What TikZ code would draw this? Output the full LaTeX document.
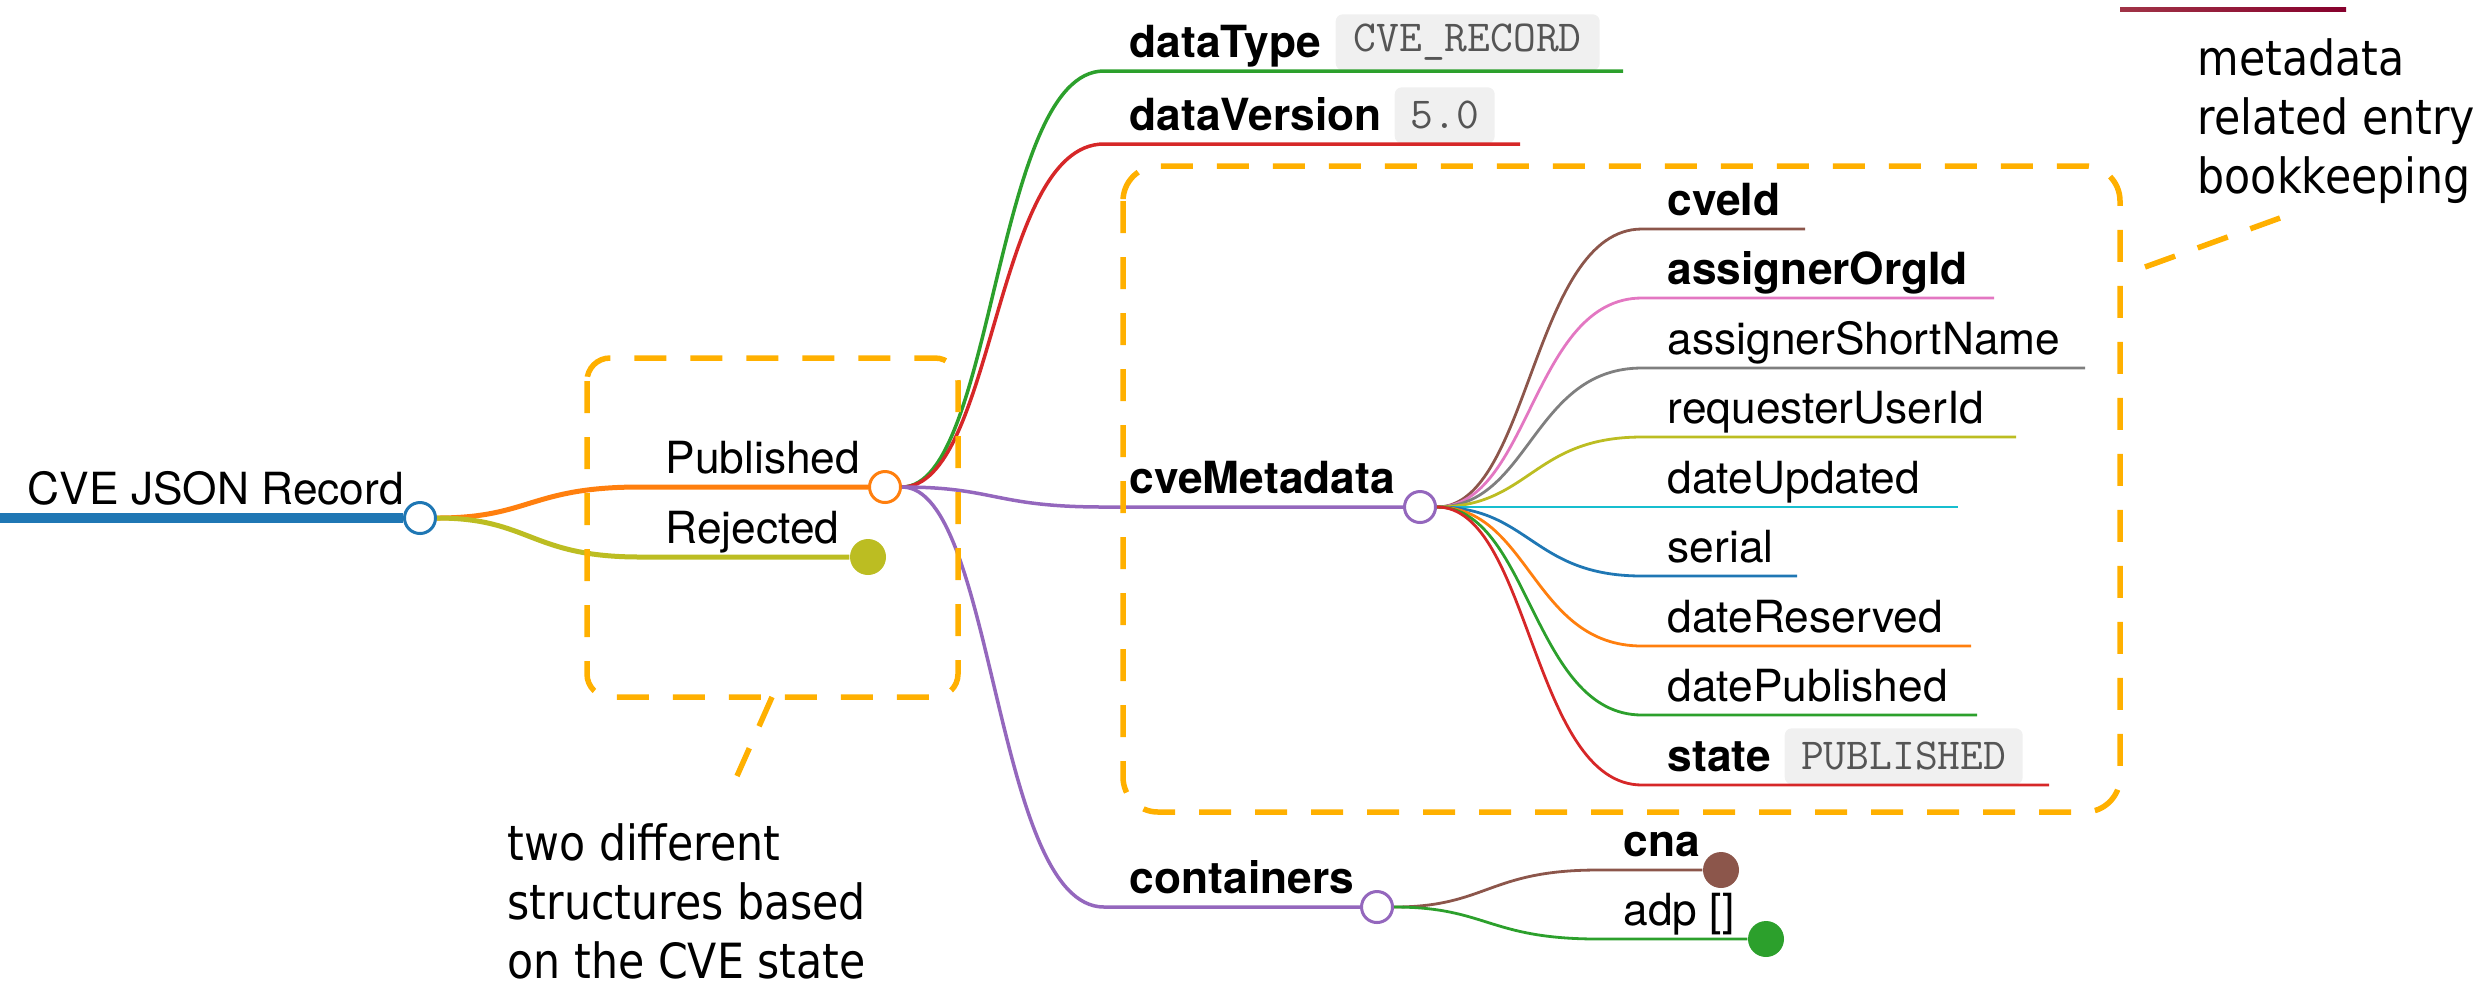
\documentclass[tikz,border=0pt]{standalone}
\usepackage{fontspec}
\setmainfont{TeX Gyre Heros}
\newfontfamily\notefont[FakeStretch=0.88]{DejaVu Sans}
\usepackage{tikz}
\usetikzlibrary{calc}

\definecolor{catblue}{HTML}{1F77B4}
\definecolor{catorange}{HTML}{FF7F0E}
\definecolor{catgreen}{HTML}{2CA02C}
\definecolor{catred}{HTML}{D62728}
\definecolor{catpurple}{HTML}{9467BD}
\definecolor{catbrown}{HTML}{8C564B}
\definecolor{catpink}{HTML}{E377C2}
\definecolor{catgray}{HTML}{7F7F7F}
\definecolor{catolive}{HTML}{BCBD22}
\definecolor{catcyan}{HTML}{17BECF}
\definecolor{markorange}{RGB}{255,176,0}
\definecolor{valfill}{RGB}{240,240,240}
\definecolor{valtext}{RGB}{85,85,85}

\tikzset{
  lbl/.style={anchor=base west, inner sep=0pt, font=\fontsize{12.6}{15}\selectfont},
  keylbl/.style={lbl, font=\fontsize{12.6}{15}\selectfont\bfseries},
  valbox/.style={anchor=south west, fill=valfill, rounded corners=2pt, inner sep=0pt,
    minimum height=5.6mm, text=valtext, font=\ttfamily\fontsize{12.6}{14}\selectfont},
  opendot/.style={circle, draw=#1, fill=white, line width=0.3mm, minimum size=3.1mm, inner sep=0pt},
  fulldot/.style={circle, fill=#1, minimum size=3.6mm, inner sep=0pt},
  lvl0/.style={line width=1mm},
  lvl1/.style={line width=0.5mm},
  lvl2/.style={line width=0.35mm},
  lvl3/.style={line width=0.28mm},
  dashbox/.style={draw=markorange, line width=0.55mm, dash pattern=on 3.2mm off 2.4mm},
  notetext/.style={anchor=north west, inner sep=0pt, align=left,
    font=\notefont\fontsize{13.8}{16.8}\selectfont},
}

\begin{document}
\begin{tikzpicture}[x=0.1mm, y=-0.1mm]
  \useasboundingbox (0,0) rectangle (2483,994);

  % root
  \coordinate (root-s) at (0,518);
  \node[opendot=catblue] (root) at (420,518) {};
  \node[lbl] (root-l) at (27,504) {CVE JSON Record};
  \draw[catblue, lvl0] (root-s) -- (root);

  % state branches
  \coordinate (pub-s) at (640,487);
  \coordinate (rej-s) at (640,557);
  \node[opendot=catorange] (pub) at (885,487) {};
  \node[fulldot=catolive] (rej) at (868,557) {};
  \node[lbl] (pub-l) at (665,473) {Published};
  \node[lbl] (rej-l) at (665,543) {Rejected};
  \draw[catorange, lvl1] (root) .. controls +(110,0) and +(-110,0) .. (pub-s) -- (pub);
  \draw[catolive, lvl1] (root) .. controls +(110,0) and +(-110,0) .. (rej-s) -- (rej);

  % top level keys
  \coordinate (dtype-s) at (1104,71);
  \coordinate (dtype-e) at (1623,71);
  \coordinate (dver-s) at (1104,144);
  \coordinate (dver-e) at (1520,144);
  \coordinate (meta-s) at (1104,507);
  \coordinate (cont-s) at (1104,907);
  \node[opendot=catpurple] (meta) at (1420,507) {};
  \node[opendot=catpurple] (cont) at (1377,907) {};
  \node[keylbl] (dtype-l) at (1129,57) {dataType};
  \node[valbox, minimum width=26.4mm] (dtype-v) at (1335,71) {CVE\_RECORD};
  \node[keylbl] (dver-l) at (1129,130) {dataVersion};
  \node[valbox, minimum width=10mm] (dver-v) at (1394,144) {5.0};
  \node[keylbl] (meta-l) at (1129,493) {cveMetadata};
  \node[keylbl] (cont-l) at (1129,893) {containers};
  \draw[catgreen, lvl2] (pub) .. controls +(110,0) and +(-110,0) .. (dtype-s) -- (dtype-e);
  \draw[catred, lvl2] (pub) .. controls +(110,0) and +(-110,0) .. (dver-s) -- (dver-e);
  \draw[catpurple, lvl2] (pub) .. controls +(110,0) and +(-110,0) .. (meta-s) -- (meta);
  \draw[catpurple, lvl2] (pub) .. controls +(110,0) and +(-110,0) .. (cont-s) -- (cont);

  % cveMetadata fields
  \coordinate (cveid-s) at (1642,229);      \coordinate (cveid-e) at (1805,229);
  \coordinate (orgid-s) at (1642,298);      \coordinate (orgid-e) at (1994,298);
  \coordinate (short-s) at (1642,368);      \coordinate (short-e) at (2085,368);
  \coordinate (user-s) at (1642,437);       \coordinate (user-e) at (2016,437);
  \coordinate (upd-s) at (1642,507);        \coordinate (upd-e) at (1958,507);
  \coordinate (serial-s) at (1642,576);     \coordinate (serial-e) at (1797,576);
  \coordinate (resv-s) at (1642,646);       \coordinate (resv-e) at (1971,646);
  \coordinate (datepub-s) at (1642,715);    \coordinate (datepub-e) at (1977,715);
  \coordinate (state-s) at (1642,785);      \coordinate (state-e) at (2049,785);
  \node[keylbl] (cveid-l) at (1667,215) {cveId};
  \node[keylbl] (orgid-l) at (1667,284) {assignerOrgId};
  \node[lbl] (short-l) at (1667,354) {assignerShortName};
  \node[lbl] (user-l) at (1667,423) {requesterUserId};
  \node[lbl] (upd-l) at (1667,493) {dateUpdated};
  \node[lbl] (serial-l) at (1667,562) {serial};
  \node[lbl] (resv-l) at (1667,632) {dateReserved};
  \node[lbl] (datepub-l) at (1667,701) {datePublished};
  \node[keylbl] (state-l) at (1667,771) {state};
  \node[valbox, minimum width=23.8mm] (state-v) at (1784,785) {PUBLISHED};
  \draw[catbrown, lvl3] (meta) .. controls +(110,0) and +(-110,0) .. (cveid-s) -- (cveid-e);
  \draw[catpink, lvl3] (meta) .. controls +(110,0) and +(-110,0) .. (orgid-s) -- (orgid-e);
  \draw[catgray, lvl3] (meta) .. controls +(110,0) and +(-110,0) .. (short-s) -- (short-e);
  \draw[catolive, lvl3] (meta) .. controls +(110,0) and +(-110,0) .. (user-s) -- (user-e);
  \draw[catcyan, lvl3] (meta) -- (upd-s) -- (upd-e);
  \draw[catblue, lvl3] (meta) .. controls +(110,0) and +(-110,0) .. (serial-s) -- (serial-e);
  \draw[catorange, lvl3] (meta) .. controls +(110,0) and +(-110,0) .. (resv-s) -- (resv-e);
  \draw[catgreen, lvl3] (meta) .. controls +(110,0) and +(-110,0) .. (datepub-s) -- (datepub-e);
  \draw[catred, lvl3] (meta) .. controls +(110,0) and +(-110,0) .. (state-s) -- (state-e);

  % containers
  \coordinate (cna-s) at (1598,870);
  \coordinate (adp-s) at (1598,939);
  \node[fulldot=catbrown] (cna) at (1721,870) {};
  \node[fulldot=catgreen] (adp) at (1766,939) {};
  \node[keylbl] (cna-l) at (1623,856) {cna};
  \node[lbl] (adp-l) at (1623,925) {adp []};
  \draw[catbrown, lvl3] (cont) .. controls +(110,0) and +(-110,0) .. (cna-s) -- (cna);
  \draw[catgreen, lvl3] (cont) .. controls +(110,0) and +(-110,0) .. (adp-s) -- (adp);

  % annotations
  \draw[dashbox, rounded corners=2.3mm] (587,358) rectangle (958,697);
  \draw[dashbox, rounded corners=3.5mm] (1123,166) rectangle (2120,812);
  \coordinate (state-from) at (772,697);
  \coordinate (state-to) at (737,776);
  \coordinate (meta-from) at (2145,267);
  \coordinate (meta-to) at (2280,218);
  \draw[dashbox] (state-from) -- (state-to);
  \draw[dashbox] (meta-from) -- (meta-to);
  \node[notetext] (state-note) at (507,823) {two different\\structures based\\on the CVE state};
  \node[notetext] (meta-note) at (2197,38) {metadata\\related entry\\bookkeeping};

  \shade[left color=catbrown!60!purple, right color=purple!70!black] (2120,7) rectangle (2346,11);
\end{tikzpicture}
\end{document}
